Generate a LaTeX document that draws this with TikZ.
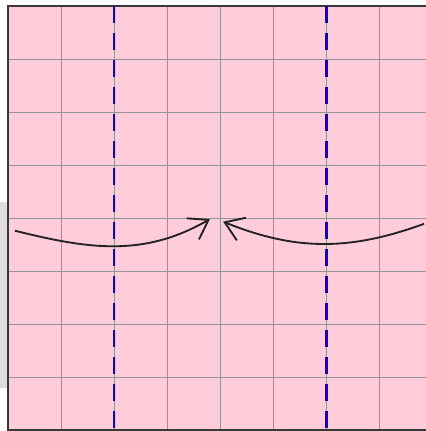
\documentclass[tikz,border=0pt]{standalone}
\usepackage{tikz}
\usetikzlibrary{arrows.meta}
\usepackage{xcolor}
\definecolor{sheet}{HTML}{FFCCD9}
\definecolor{ink}{HTML}{222222}
\definecolor{crease}{HTML}{0000FF}
\definecolor{shadow}{HTML}{DDDDDD}
\tikzset{
  >=Latex,
  gridline/.style={draw=gray!85,line width=0.5pt},
  border/.style={draw=ink!90,line width=1pt},
  foldline/.style={draw=crease,line width=1.6pt,dash pattern=on 0.32cm off 0.19cm},
  move/.style={-{Straight Barb[length=0.34cm,width=0.46cm]},line width=1pt,draw=ink},
}
\begin{document}
\begin{tikzpicture}[x=1cm,y=1cm]
  \useasboundingbox (-0.151,-0.019) rectangle (7.868,8.113);
  \fill[shadow,rounded corners=4pt] (-0.5,0.79) rectangle (0.1,4.30);
  \fill[sheet] (0,0) rectangle (8.2,8);
  \draw[gridline] (0,0) grid (8,8);
  \draw[border] (8.2,0) -- (0,0) -- (0,8) -- (8.2,8);
  \foreach \x in {2,6}
    \draw[foldline] (\x,8) -- (\x,-0.05);

  \coordinate (lstart) at (0.13,3.76);
  \coordinate (ltip) at (3.81,3.98);
  \coordinate (rstart) at (7.85,3.89);
  \coordinate (rtip) at (4.06,3.93);
  \draw[move] (lstart) to[out=-14,in=-150] (ltip);
  \draw[move] (rstart) to[out=200,in=-22] (rtip);
\end{tikzpicture}
\end{document}
